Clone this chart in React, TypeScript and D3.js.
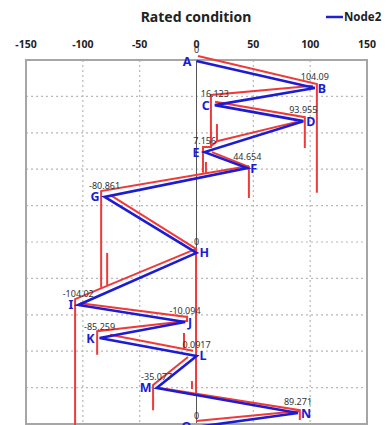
import React from 'react';
import * as d3 from 'd3';

// Node names, displacement values and vertical positions (levels) along the model
const nodeNames = ['A', 'B', 'C', 'D', 'E', 'F', 'G', 'H', 'I', 'J', 'K', 'L', 'M', 'N', 'O'];
const nodeValues = [0, 104.09, 16.123, 93.955, 7.156, 44.654, -80.861, 0, -104.02, -10.094, -85.259, 0.0917, -35.077, 89.271, 0];
const nodeValueLabels = ['0', '104.09', '16.123', '93.955', '7.156', '44.654', '-80.861', '0', '-104.02', '-10.094', '-85.259', '0.0917', '-35.077', '89.271', '0'];
const nodeLevels = [0.03, 0.77, 1.24, 1.68, 2.53, 2.97, 3.76, 5.3, 6.73, 7.2, 7.64, 8.13, 9.01, 9.7, 10.08];
// which side of the vertex the node letter sits on
const nodeSides = ['L', 'R', 'L', 'R', 'L', 'R', 'L', 'R', 'L', 'R', 'L', 'R', 'L', 'R', 'L'];

const xTicks = [-150, -100, -50, 0, 50, 100, 150];
const xGrid = [-100, -50, 50, 100];
const yGrid = [1, 2, 3, 4, 5, 6, 7, 8, 9];

// Envelope traces (value, level)
const envelopePaths: [number, number][][] = [
  [[1.3, -0.11], [105.9, 0.66], [105.9, 3.65]],
  [[102.4, 0.71], [12.7, 0.96], [12.7, 2.39], [5.7, 2.39], [5.7, 3.1]],
  [[16.3, 1.15], [95.3, 1.57], [95.3, 2.42]],
  [[88.3, 1.7], [18.0, 2.23], [12.7, 2.37]],
  [[18.0, 1.76], [18.0, 2.23]],
  [[13.6, 2.53], [46.1, 2.94], [46.1, 3.79]],
  [[46.1, 2.91], [-83.9, 3.6], [-83.9, 6.26]],
  [[8.3, 2.8], [8.3, 3.1]],
  [[-74.3, 3.74], [-0.4, 5.19], [-0.4, 9.15]],
  [[-0.4, 5.19], [-106.8, 6.57], [-106.8, 10.3]],
  [[-78.6, 5.3], [-78.6, 6.18]],
  [[-102.4, 6.68], [-8.3, 7.06], [-8.3, 7.2]],
  [[-8.3, 7.17], [-87.4, 7.45], [-87.4, 8.1]],
  [[-76.0, 7.55], [-3.1, 7.99]],
  [[-11.0, 7.5], [-11.0, 7.91]],
  [[-7.5, 8.16], [-38.2, 8.93], [-38.2, 9.62]],
  [[-4.0, 8.82], [-4.0, 9.04]],
  [[-32.1, 9.01], [90.9, 9.62], [90.9, 9.89]],
  [[90.9, 9.64], [-0.4, 9.92]],
];

const W = 390;
const H = 425;
const plot = { left: 26, right: 367, top: 60, bottom: 424 };

export default function App() {
  const x = d3.scaleLinear().domain([-150, 150]).range([plot.left, plot.right]);
  const y = d3.scaleLinear().domain([0, 10]).range([plot.top, plot.bottom]);

  const line = d3
    .line<[number, number]>()
    .x((d) => x(d[0]))
    .y((d) => y(d[1]));

  const nodePts: [number, number][] = nodeValues.map((v, i) => [v, nodeLevels[i]]);
  const font = '"Noto Sans", "DejaVu Sans", sans-serif';

  return (
    <svg
      width={W}
      height={H}
      style={{ position: 'absolute', left: 0, top: 0, background: '#fff' }}
      fontFamily={font}
    >
      {/* title */}
      <text x={196} y={22} textAnchor="middle" fontSize={14} fontWeight="bold" fill="#222">
        Rated condition
      </text>

      {/* legend */}
      <line x1={326} x2={343} y1={17} y2={17} stroke="#2020d0" strokeWidth={2.5} />
      <text x={344} y={21} fontSize={11.5} fontWeight="bold" fill="#222">
        Node2
      </text>

      {/* x tick labels */}
      {xTicks.map((t) => (
        <text key={t} x={x(t)} y={48} textAnchor="middle" fontSize={10.5} fontWeight="bold" fill="#222">
          {t}
        </text>
      ))}

      {/* grid */}
      {yGrid.map((g) => (
        <line
          key={'gy' + g}
          x1={plot.left}
          x2={plot.right}
          y1={y(g)}
          y2={y(g)}
          stroke="#b8b8b8"
          strokeWidth={1.2}
          strokeDasharray="2,3"
        />
      ))}
      {xGrid.map((g) => (
        <line
          key={'gx' + g}
          x1={x(g)}
          x2={x(g)}
          y1={plot.top}
          y2={plot.bottom}
          stroke="#b8b8b8"
          strokeWidth={1.2}
          strokeDasharray="2,3"
        />
      ))}

      {/* zero axis */}
      <line x1={x(0)} x2={x(0)} y1={plot.top} y2={plot.bottom} stroke="#555" strokeWidth={1} />

      {/* frame */}
      <rect
        x={plot.left}
        y={plot.top}
        width={plot.right - plot.left}
        height={plot.bottom - plot.top}
        fill="none"
        stroke="#a6a6a6"
        strokeWidth={2}
      />

      {/* envelope traces */}
      {envelopePaths.map((p, i) => (
        <path key={'r' + i} d={line(p) || ''} fill="none" stroke="#f03a3a" strokeWidth={2} />
      ))}

      {/* Node2 deflection */}
      <path d={line(nodePts) || ''} fill="none" stroke="#1c1cd4" strokeWidth={2.6} strokeLinejoin="miter" />

      {/* value labels */}
      {nodeValueLabels.map((lab, i) => (
        <text
          key={'v' + i}
          x={x(nodeValues[i])}
          y={y(nodeLevels[i]) - 8}
          textAnchor="middle"
          fontSize={9}
          fill="#333"
        >
          {lab}
        </text>
      ))}

      {/* node letters */}
      {nodeNames.map((n, i) => {
        const right = nodeSides[i] === 'R';
        return (
          <text
            key={'n' + n}
            x={x(nodeValues[i]) + (right ? 3 : -5)}
            y={y(nodeLevels[i]) + 4.5}
            textAnchor={right ? 'start' : 'end'}
            fontSize={12.5}
            fontWeight="bold"
            fill="#1c1cd4"
          >
            {n}
          </text>
        );
      })}
    </svg>
  );
}
